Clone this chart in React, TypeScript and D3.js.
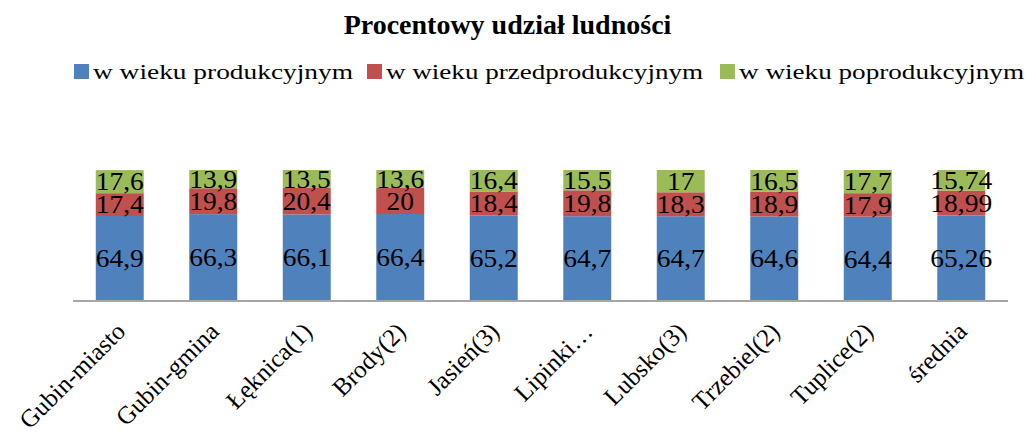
import React from "react";
import * as d3 from "d3";

const categories = [
	"Gubin-miasto",
	"Gubin-gmina",
	"Łęknica(1)",
	"Brody(2)",
	"Jasień(3)",
	"Lipinki…",
	"Lubsko(3)",
	"Trzebiel(2)",
	"Tuplice(2)",
	"średnia",
];

const produkcyjny = [64.9, 66.3, 66.1, 66.4, 65.2, 64.7, 64.7, 64.6, 64.4, 65.26];
const przedprodukcyjny = [17.4, 19.8, 20.4, 20, 18.4, 19.8, 18.3, 18.9, 17.9, 18.99];
const poprodukcyjny = [17.6, 13.9, 13.5, 13.6, 16.4, 15.5, 17, 16.5, 17.7, 15.74];

const seriesNames = ["w wieku produkcyjnym", "w wieku przedprodukcyjnym", "w wieku poprodukcyjnym"];
const seriesColors = ["#4F81BD", "#C0504D", "#9BBB59"];
const seriesValues = [produkcyjny, przedprodukcyjny, poprodukcyjny];

const fmt = (v: number) => String(v).replace(".", ",");

export default function App() {
	const width = 1027;
	const height = 436;
	const font = "Liberation Serif";

	const x = d3.scaleBand<string>().domain(categories).range([73, 1008]).paddingInner(0.487).paddingOuter(0.2435);
	const y = d3.scaleLinear().domain([0, 100]).range([301, 170]);

	const rows = categories.map((c, i) => ({
		cat: c,
		s0: produkcyjny[i],
		s1: przedprodukcyjny[i],
		s2: poprodukcyjny[i],
	}));
	const stacked = d3.stack<any>().keys(["s0", "s1", "s2"])(rows);

	// legend layout: square x, text x, text width
	const legend = [
		{ sq: 74, tx: 93, w: 260 },
		{ sq: 367, tx: 386, w: 317 },
		{ sq: 720, tx: 739, w: 285 },
	];

	return (
		<svg width={width} height={height} style={{ position: "absolute", left: 0, top: 0 }}>
			<rect width={width} height={height} fill="#fff" />
			<text x={507.5} y={34} textAnchor="middle" fontFamily={font} fontWeight="bold" fontSize={28} fill="#000">
				Procentowy udział ludności
			</text>

			{/* legend */}
			{legend.map((l, i) => (
				<g key={i}>
					<rect x={l.sq} y={64} width={15} height={15} fill={seriesColors[i]} />
					<text
						x={l.tx}
						y={79}
						fontFamily={font}
						fontSize={22}
						textLength={l.w}
						lengthAdjust="spacingAndGlyphs"
						fill="#000"
					>
						{seriesNames[i]}
					</text>
				</g>
			))}

			{/* bars */}
			{stacked.map((layer, si) => (
				<g key={si} fill={seriesColors[si]}>
					{layer.map((d, i) => (
						<rect
							key={i}
							x={x(categories[i])}
							y={y(d[1])}
							width={x.bandwidth()}
							height={y(d[0]) - y(d[1])}
						/>
					))}
				</g>
			))}

			{/* data labels */}
			{stacked.map((layer, si) => (
				<g key={si}>
					{layer.map((d, i) => {
						const cx = (x(categories[i]) || 0) + x.bandwidth() / 2;
						const cy = (y(d[0]) + y(d[1])) / 2;
						return (
							<text
								key={i}
								transform={`translate(${cx},${cy}) scale(1.1,1)`}
								dy="0.35em"
								textAnchor="middle"
								fontFamily={font}
								fontSize={25}
								fill="#000"
							>
								{fmt(seriesValues[si][i])}
							</text>
						);
					})}
				</g>
			))}

			{/* x axis */}
			<line x1={73} x2={1008} y1={301} y2={301} stroke="#A6A6A6" strokeWidth={2} />
			{categories.map((c) => {
				const cx = (x(c) || 0) + x.bandwidth() / 2;
				return (
					<text
						key={c}
						transform={`translate(${cx + 7},${333}) rotate(-45)`}
						textAnchor="end"
						fontFamily={font}
						fontSize={25}
						fill="#000"
					>
						{c}
					</text>
				);
			})}
		</svg>
	);
}
